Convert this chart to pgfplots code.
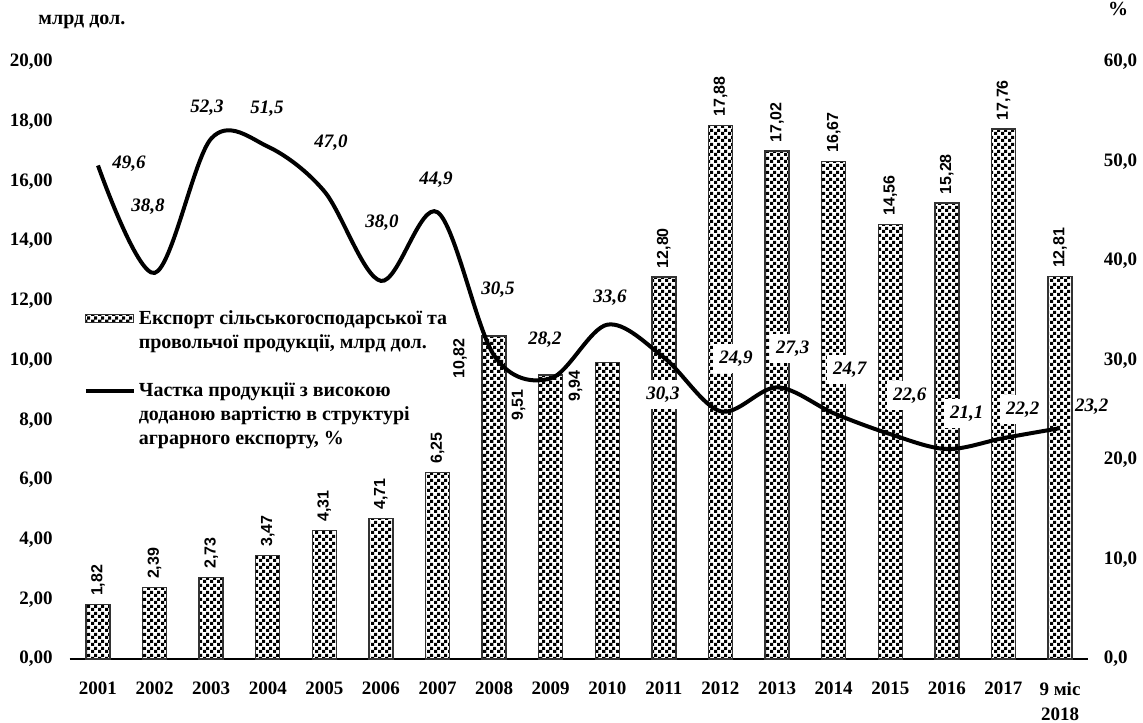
\documentclass[border=0pt]{standalone}
\usepackage{fontspec}
\setmainfont{Liberation Serif}
\newfontfamily\arialf{Liberation Sans}
\usepackage{pgfplots}
\pgfplotsset{compat=1.18}
\usetikzlibrary{patterns}
\pgfdeclarepatternformonly{mycheck}{\pgfqpoint{0pt}{0pt}}{\pgfqpoint{3.5pt}{3.5pt}}{\pgfqpoint{3.5pt}{3.5pt}}{%
 \pgfpathrectangle{\pgfqpoint{0pt}{0pt}}{\pgfqpoint{1.85pt}{1.85pt}}%
 \pgfpathrectangle{\pgfqpoint{1.75pt}{1.75pt}}{\pgfqpoint{1.75pt}{1.75pt}}%
 \pgfusepath{fill}}
\newcommand{\tickf}{\fontsize{9.5}{12.5}\selectfont\bfseries}
\newcommand{\barf}{\arialf\fontsize{8}{8}\selectfont\bfseries}
\newcommand{\linef}{\fontsize{9.5}{10}\selectfont\bfseries\itshape}
\begin{document}
\begin{tikzpicture}
\pgfplotsset{
  common/.style={
    scale only axis, width=509.3pt, height=298.5pt,
    xmin=-0.5, xmax=17.5,
    major tick length=0pt,
    /pgf/number format/assume math mode=true,
    tick label style={font=\tickf},
  }
}
\begin{axis}[common,
  ymin=0, ymax=20,
  axis x line*=bottom, axis y line*=left,
  x axis line style={-, black, line width=0.6pt},
  y axis line style={draw=none},
  ytick={0,2,...,20},
  yticklabel style={/pgf/number format/.cd, fixed, fixed zerofill, precision=2, use comma, /tikz/.cd, xshift=-5pt},
  xtick={0,...,17},
  xticklabels={2001,2002,2003,2004,2005,2006,2007,2008,2009,2010,2011,2012,2013,2014,2015,2016,2017,{9 міс\\2018}},
  xticklabel style={align=center, yshift=-8pt},
  ybar, bar width=12pt, bar shift=0pt,
  clip=false,
]
\addplot[draw=black!80, line width=0.7pt, pattern=mycheck,
  nodes near coords={\pgfmathprintnumber[fixed, fixed zerofill, precision=2, use comma]{\pgfplotspointmeta}},
  every node near coord/.append style={rotate=90, anchor=west, inner sep=4pt, font=\barf}]
 coordinates {(0,1.82)(1,2.39)(2,2.73)(3,3.47)(4,4.31)(5,4.71)(6,6.25)(10,12.80)(11,17.88)(12,17.02)(13,16.67)(14,14.56)(15,15.28)(16,17.76)(17,12.81)};
\addplot[draw=black!80, line width=0.7pt, pattern=mycheck]
 coordinates {(7,10.82)(8,9.51)(9,9.94)};
\node[rotate=90, font=\barf] at (axis cs:6.396,10.07) {10,82};
\node[rotate=90, font=\barf] at (axis cs:7.431,8.51) {9,51};
\node[rotate=90, font=\barf] at (axis cs:8.438,9.15) {9,94};
\node[font=\fontsize{10}{12}\selectfont\bfseries] at (rel axis cs:0.012,1.067) {млрд дол.};
\node[font=\fontsize{10}{12}\selectfont\bfseries] at (rel axis cs:1.0293,1.0888) {\%};
\end{axis}
\begin{axis}[common,
  ymin=0, ymax=60,
  axis y line*=right, axis x line=none,
  y axis line style={draw=none},
  xtick=\empty,
  ytick={0,10,...,60},
  yticklabel style={/pgf/number format/.cd, fixed, fixed zerofill, precision=1, use comma, /tikz/.cd, xshift=4.3pt},
  clip=false,
  legend cell align=left,
  legend style={draw=none, fill=none, at={(0.0135,0.598)}, anchor=north west,
    font=\fontsize{10}{12}\selectfont\bfseries, row sep=11.5pt, column sep=0pt, inner xsep=0pt,
    nodes={inner xsep=1.5pt},
    cells={align=left}},
]
\addlegendimage{legend image code/.code={\path[draw=none, fill=none] (0pt,-8pt) rectangle (24pt,8pt);\draw[draw=black!80, line width=0.5pt, pattern=mycheck] (0pt,4pt) rectangle (24pt,8pt);}}
\addlegendentry{Експорт сільськогосподарської та\\провольчої продукції, млрд дол.}
\node[font=\linef] at (axis cs:0.548,49.75) {49,6};
\node[font=\linef] at (axis cs:0.883,45.5) {38,8};
\node[font=\linef] at (axis cs:1.926,55.4) {52,3};
\node[font=\linef] at (axis cs:2.986,55.3) {51,5};
\node[font=\linef] at (axis cs:4.117,51.9) {47,0};
\node[font=\linef] at (axis cs:5.018,43.9) {38,0};
\node[font=\linef] at (axis cs:5.972,48.2) {44,9};
\node[font=\linef] at (axis cs:7.067,37.1) {30,5};
\node[font=\linef] at (axis cs:7.898,32.1) {28,2};
\node[font=\linef] at (axis cs:9.046,36.3) {33,6};
\node[font=\linef, fill=white] at (axis cs:9.982,26.6) {30,3};
\node[font=\linef, fill=white] at (axis cs:11.272,30.2) {24,9};
\node[font=\linef, fill=white] at (axis cs:12.279,31.2) {27,3};
\node[font=\linef, fill=white] at (axis cs:13.286,29.1) {24,7};
\node[font=\linef, fill=white] at (axis cs:14.346,26.5) {22,6};
\node[font=\linef, fill=white] at (axis cs:15.353,24.7) {21,1};
\node[font=\linef, fill=white] at (axis cs:16.343,25.1) {22,2};
\node[font=\linef] at (axis cs:17.562,25.4) {23,2};
\addplot[black, line width=2pt, smooth, tension=0.55,
  legend image code/.code={\path[draw=none, fill=none] (0pt,-13pt) rectangle (24pt,13pt);\draw[line width=2pt] (0pt,12pt) -- (24pt,12pt);}]
 coordinates {(0,49.6)(1,38.8)(2,52.3)(3,51.5)(4,47.0)(5,38.0)(6,44.9)(7,30.5)(8,28.2)(9,33.6)(10,30.3)(11,24.9)(12,27.3)(13,24.7)(14,22.6)(15,21.1)(16,22.2)(17,23.2)};
\addlegendentry{Частка продукції з високою\\доданою вартістю в структурі\\аграрного експорту, \%}
\end{axis}
\pgfresetboundingbox
\useasboundingbox (-34.85pt,-31.5pt) rectangle (536.65pt,329.5pt);
\end{tikzpicture}
\end{document}
